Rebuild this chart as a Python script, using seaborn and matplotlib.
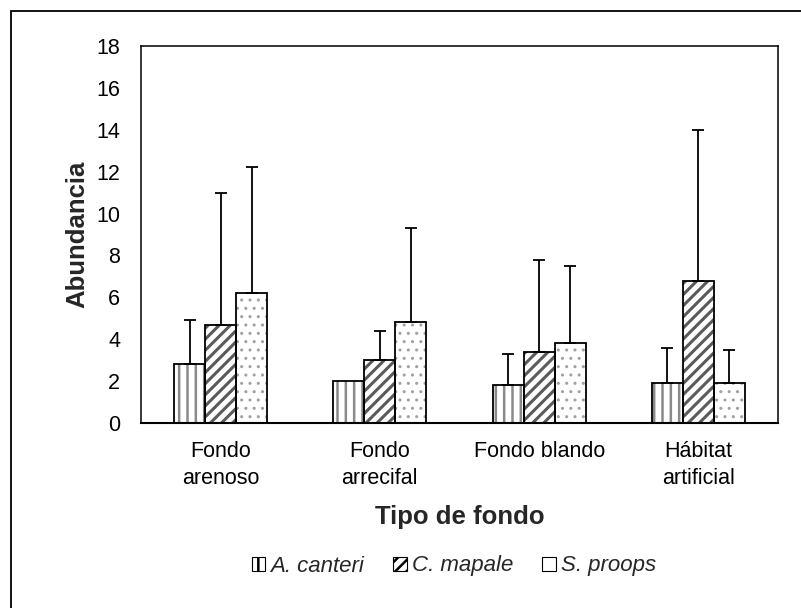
import matplotlib
matplotlib.use("Agg")
import matplotlib.pyplot as plt
import matplotlib.patches as mpatches
import seaborn as sns
import numpy as np
import pandas as pd

categories = ["Fondo\narenoso", "Fondo\narrecifal", "Fondo blando", "Hábitat\nartificial"]
species = ["A. canteri", "C. mapale", "S. proops"]
mean_a = [2.8, 2.0, 1.8, 1.9]
mean_c = [4.7, 3.0, 3.4, 6.8]
mean_s = [6.2, 4.8, 3.8, 1.9]
sd_a = [2.1, 0.0, 1.5, 1.7]
sd_c = [6.3, 1.4, 4.4, 7.2]
sd_s = [6.0, 4.5, 3.7, 1.6]
y_ticks = [0, 2, 4, 6, 8, 10, 12, 14, 16, 18]

means = [mean_a, mean_c, mean_s]
sds = [sd_a, sd_c, sd_s]
rows = []
for sp, m in zip(species, means):
    for cat, v in zip(categories, m):
        rows.append({"tipo": cat, "abund": v, "especie": sp})
df = pd.DataFrame(rows)

sns.set_style("white")
plt.rcParams["font.family"] = ["Liberation Sans", "DejaVu Sans"]
plt.rcParams["hatch.linewidth"] = 1.8

fig = plt.figure(figsize=(8.01, 6.08), dpi=100)
ax = fig.add_axes([141 / 801, 1 - 423 / 608, (778 - 141) / 801, (423 - 46) / 608])

sns.barplot(data=df, x="tipo", y="abund", hue="especie", order=categories,
            hue_order=species, palette=["white"] * 3, width=0.585,
            errorbar=None, ax=ax, legend=False)

hatches = ["||", "///", ".."]
hatch_cols = ["#8a8a8a", "#5a5a5a", "#a0a0a0"]
hatch_lws = [1.8, 2.2, 1.0]
for ci, (cont, h, hc, hl) in enumerate(zip(ax.containers, hatches, hatch_cols, hatch_lws)):
    xs = []
    for bar in cont:
        bar.set_hatch(h)
        bar.set_edgecolor(hc)
        bar.set_linewidth(0)
        if hasattr(bar, "set_hatch_linewidth"):
            bar.set_hatch_linewidth(hl)
        else:
            bar._hatch_linewidth = hl
        ax.add_patch(mpatches.Rectangle((bar.get_x(), 0), bar.get_width(), bar.get_height(),
                                        facecolor="none", edgecolor="black", linewidth=1.3, zorder=3))
        xs.append(bar.get_x() + bar.get_width() / 2)
    xs = np.array(xs)
    m = np.array(means[ci])
    s = np.array(sds[ci])
    keep = s > 0
    ax.errorbar(xs[keep], m[keep], yerr=[np.zeros(keep.sum()), s[keep]], fmt="none",
                ecolor="black", elinewidth=1.3, capsize=4.5, capthick=1.3, zorder=4)

ax.set_ylim(0, 18)
ax.set_yticks(y_ticks)
ax.set_xlim(-0.5, 3.5)
ax.tick_params(axis="both", length=0, labelsize=15.5, colors="black")
ax.tick_params(axis="y", pad=15)
ax.tick_params(axis="x", pad=13)
for lab in ax.get_xticklabels():
    lab.set_linespacing(1.35)
for sp in ax.spines.values():
    sp.set_visible(True)
    sp.set_color("black")
    sp.set_linewidth(1.1)
ax.spines["bottom"].set_linewidth(1.5)

ax.set_ylabel("Abundancia", fontsize=18.5, fontweight="bold", labelpad=5)
ax.set_xlabel("Tipo de fondo", fontsize=18.5, fontweight="bold", labelpad=12)

handles = [mpatches.Patch(facecolor="white", edgecolor="black", hatch=h, linewidth=0.8)
           for h in ["|", "///", ""]]
leg = fig.legend(handles, species, loc="center", bbox_to_anchor=(454 / 801, 1 - 566 / 608),
                 ncol=3, frameon=False, prop={"style": "italic", "size": 16},
                 handlelength=0.6, handleheight=0.6, handletextpad=0.25, columnspacing=1.3)

fig.patches.append(mpatches.Rectangle((11 / 801, -0.02), 1.1, 1 - 11 / 608 + 0.02,
                                      transform=fig.transFigure, facecolor="none",
                                      edgecolor="black", linewidth=1.3))

fig.savefig("out.png", dpi=100)
